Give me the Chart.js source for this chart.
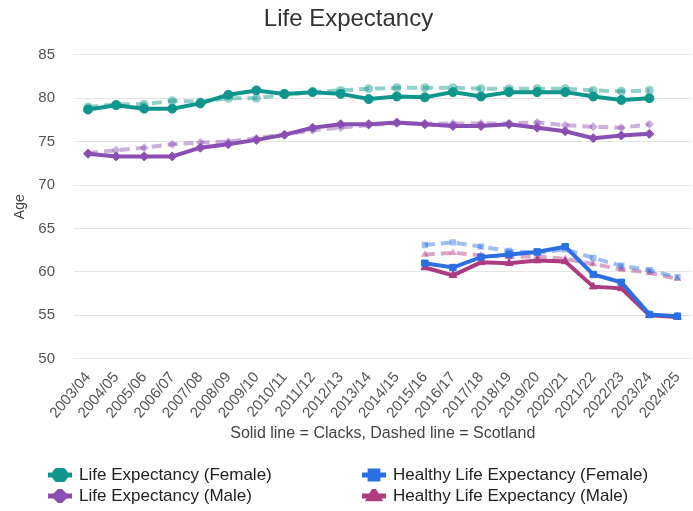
<!DOCTYPE html>
<html>
<head>
<meta charset="utf-8">
<script src="https://cdn.jsdelivr.net/npm/chart.js@4.4.1/dist/chart.umd.min.js"></script>
<style>
    body { margin: 0; background: #fff; font-family: "Liberation Sans", Arial, sans-serif; overflow: hidden; }
    .wrap { position: relative; width: 697px; height: 448px; }
    .legend {
        display: grid;
        grid-template-columns: 314px 320px;
        grid-auto-flow: column;
        grid-template-rows: 21px 21px;
        margin-left: 48px;
        margin-top: 16px;
        font-size: 17px;
        color: #222;
    }
    .legend div { display: flex; align-items: center; white-space: nowrap; }
    .legend canvas { margin-right: 7px; }
</style>
</head>
<body>
<div class="wrap"><canvas id="lifeChart"></canvas></div>
<div class="legend" id="legend"></div>
<script>
// Financial-year labels
const years = ['2003/04', '2004/05', '2005/06', '2006/07', '2007/08', '2008/09', '2009/10',
    '2010/11', '2011/12', '2012/13', '2013/14', '2014/15', '2015/16', '2016/17', '2017/18',
    '2018/19', '2019/20', '2020/21', '2021/22', '2022/23', '2023/24', '2024/25'];

// Life expectancy - Clacks (solid) and Scotland (dashed)
const leFemaleClacks = [78.7, 79.2, 78.8, 78.8, 79.4, 80.4, 80.9, 80.5, 80.7, 80.5, 79.9, 80.2, 80.1, 80.7, 80.2, 80.7, 80.7, 80.7, 80.2, 79.8, 80.0, null];
const leFemaleScot = [79.0, 79.3, 79.3, 79.7, 79.6, 80.0, 80.0, 80.4, 80.7, 80.9, 81.1, 81.2, 81.2, 81.2, 81.1, 81.1, 81.1, 81.1, 80.9, 80.8, 80.9, null];
const leMaleClacks = [73.6, 73.3, 73.3, 73.3, 74.3, 74.7, 75.2, 75.8, 76.6, 77.0, 77.0, 77.2, 77.0, 76.8, 76.8, 77.0, 76.6, 76.2, 75.4, 75.7, 75.9, null];
const leMaleScot = [73.7, 74.0, 74.3, 74.7, 74.9, 75.0, 75.4, 75.8, 76.3, 76.6, 76.9, 77.1, 77.1, 77.1, 77.1, 77.1, 77.2, 76.9, 76.7, 76.6, 77.0, null];

// Healthy life expectancy (from 2015/16)
const hleFemaleClacks = [null, null, null, null, null, null, null, null, null, null, null, null, 61.0, 60.5, 61.7, 62.0, 62.3, 62.9, 59.7, 58.8, 55.1, 54.9];
const hleFemaleScot = [null, null, null, null, null, null, null, null, null, null, null, null, 63.1, 63.4, 62.9, 62.4, 62.2, 62.6, 61.6, 60.7, 60.2, 59.4];
const hleMaleClacks = [null, null, null, null, null, null, null, null, null, null, null, null, 60.5, 59.6, 61.1, 61.0, 61.3, 61.2, 58.3, 58.1, 55.0, 54.8];
const hleMaleScot = [null, null, null, null, null, null, null, null, null, null, null, null, 62.0, 62.2, 61.9, 61.7, 61.8, 61.5, 60.9, 60.3, 59.9, 59.2];

const yTicks = [50, 55, 60, 65, 70, 75, 80, 85];

const teal = '#0e968c';
const purple = '#8a4fb2';
const blue = '#2b6fe3';
const magenta = '#ad3b80';

function fade(hex, a) {
    const n = parseInt(hex.slice(1), 16);
    return 'rgba(' + (n >> 16) + ',' + ((n >> 8) & 255) + ',' + (n & 255) + ',' + a + ')';
}

function solid(label, data, color, style) {
    return {
        label: label, data: data, borderColor: color, backgroundColor: color,
        borderWidth: 4, pointStyle: style, pointRadius: 4.5, pointBorderWidth: 1,
        pointBackgroundColor: color, pointBorderColor: color, tension: 0, order: 1
    };
}

function dashed(label, data, color, style) {
    const c = fade(color, 0.45);
    return {
        label: label, data: data, borderColor: c, backgroundColor: c,
        borderWidth: 4, borderDash: [10, 6], pointStyle: style, pointRadius: 4.5, pointBorderWidth: 0,
        pointBackgroundColor: c, pointBorderColor: 'rgba(0,0,0,0)', tension: 0, order: 2
    };
}

const ctx = document.getElementById('lifeChart').getContext('2d');
const lifeChart = new Chart(ctx, {
    type: 'line',
    data: {
        labels: years,
        datasets: [
            solid('Life Expectancy (Female)', leFemaleClacks, teal, 'circle'),
            solid('Life Expectancy (Male)', leMaleClacks, purple, 'rectRot'),
            solid('Healthy Life Expectancy (Female)', hleFemaleClacks, blue, 'rect'),
            solid('Healthy Life Expectancy (Male)', hleMaleClacks, magenta, 'triangle'),
            dashed('Life Expectancy (Female) - Scotland', leFemaleScot, teal, 'circle'),
            dashed('Life Expectancy (Male) - Scotland', leMaleScot, purple, 'rectRot'),
            dashed('Healthy Life Expectancy (Female) - Scotland', hleFemaleScot, blue, 'rect'),
            dashed('Healthy Life Expectancy (Male) - Scotland', hleMaleScot, magenta, 'triangle')
        ]
    },
    options: {
        responsive: true,
        maintainAspectRatio: false,
        animation: false,
        layout: { padding: { left: 0, right: 0, top: 0, bottom: 0 } },
        scales: {
            x: {
                offset: true,
                grid: { display: false },
                border: { display: false },
                ticks: {
                    color: '#555',
                    font: { family: '"Liberation Sans", Arial', size: 15 },
                    maxRotation: 50, minRotation: 50, autoSkip: false, padding: 2
                },
                title: {
                    display: true,
                    text: 'Solid line = Clacks, Dashed line = Scotland',
                    color: '#444',
                    font: { family: '"Liberation Sans", Arial', size: 16 },
                    padding: { top: 0, bottom: 5 }
                }
            },
            y: {
                min: 50, max: 85,
                afterBuildTicks: function (axis) {
                    axis.ticks = yTicks.map(v => ({ value: v }));
                },
                afterFit: function (axis) {
                    axis.width = 74;
                },
                grid: { color: '#e4e4e4', drawTicks: false },
                border: { display: false },
                ticks: {
                    color: '#555',
                    font: { family: '"Liberation Sans", Arial', size: 15 },
                    padding: 19
                },
                title: {
                    display: true, text: 'Age', color: '#444',
                    font: { family: '"Liberation Sans", Arial', size: 14 },
                    padding: { top: 12, bottom: 4 }
                }
            }
        },
        plugins: {
            title: {
                display: true,
                text: 'Life Expectancy',
                color: '#333',
                font: { family: '"Liberation Sans", Arial', size: 24, weight: 'normal' },
                padding: { top: 5, bottom: 21 }
            },
            legend: { display: false },
            tooltip: { enabled: false }
        }
    }
});

// HTML legend in two columns, solid series only
const legendEl = document.getElementById('legend');
lifeChart.data.datasets.slice(0, 4).forEach(ds => {
    const item = document.createElement('div');
    const c = document.createElement('canvas');
    c.width = 24; c.height = 14;
    const g = c.getContext('2d');
    g.strokeStyle = ds.borderColor;
    g.fillStyle = ds.borderColor;
    g.lineWidth = 5;
    g.beginPath(); g.moveTo(0, 7); g.lineTo(24, 7); g.stroke();
    Chart.helpers.drawPoint(g, { pointStyle: ds.pointStyle, radius: 5.5, rotation: 0, borderWidth: 1 }, 12, 7);
    const span = document.createElement('span');
    span.textContent = ds.label;
    item.appendChild(c);
    item.appendChild(span);
    legendEl.appendChild(item);
});
</script>
</body>
</html>
